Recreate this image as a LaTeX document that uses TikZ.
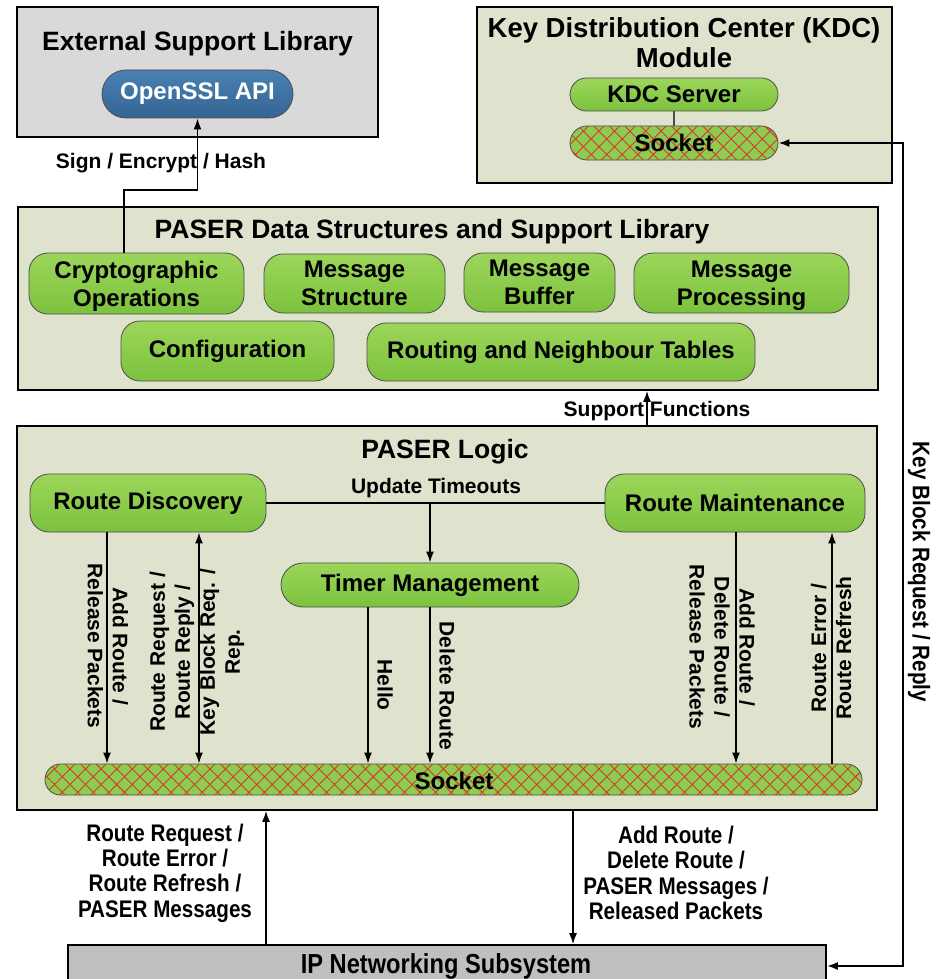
\documentclass[tikz,border=0pt]{standalone}
\usepackage{fontspec}
\setmainfont{Liberation Sans}
\newfontfamily\narrowfont{Liberation Sans}[FakeStretch=0.86]
\usetikzlibrary{arrows.meta,patterns.meta}
\definecolor{boxbg}{HTML}{DFE3CD}
\definecolor{extbg}{HTML}{D9D9D9}
\definecolor{ipbg}{HTML}{BFBFBF}
\definecolor{pilltop}{HTML}{9CD65A}
\definecolor{pillbot}{HTML}{7CC23E}
\definecolor{pillline}{HTML}{4D4D4D}
\definecolor{ssltop}{HTML}{4A80B3}
\definecolor{sslbot}{HTML}{346593}
\definecolor{hatchred}{HTML}{D9372A}
\definecolor{sockgreen}{HTML}{8DCC50}
\tikzset{
  container/.style={draw=black, line width=1.6pt, inner sep=0pt, anchor=center},
  pill/.style={draw=pillline, line width=0.8pt, top color=pilltop, bottom color=pillbot,
    rounded corners=19pt, inner sep=0pt, align=center,
    font=\fontsize{24}{28}\selectfont\bfseries},
  twoline/.style={text depth=0pt},
  sockpill/.style={draw=pillline, line width=0.8pt, fill=sockgreen, inner sep=0pt,
    font=\fontsize{24}{28}\selectfont\bfseries,
    postaction={pattern={Hatch[angle=45,distance=11pt,line width=0.9pt]}, pattern color=hatchred}},
  titletext/.style={font=\fontsize{26.5}{30}\selectfont\bfseries, align=center, inner sep=0pt, text depth=0pt},
  lbl/.style={font=\fontsize{21}{25}\selectfont\bfseries, align=center, inner sep=0pt},
  nlbl/.style={font=\narrowfont\fontsize{24}{25.3}\selectfont\bfseries, align=center, inner sep=0pt},
  conn/.style={line width=1.6pt},
  arr/.style={conn, -{Latex[length=11pt,width=8pt]}},
  dblarr/.style={conn, {Latex[length=11pt,width=8pt]}-{Latex[length=11pt,width=8pt]}},
}
\begin{document}
\begin{tikzpicture}[x=1pt,y=-1pt]
\useasboundingbox (0,0) rectangle (937,979);

% containers
\node[container, fill=extbg, minimum width=361pt, minimum height=130pt] (ext) at (197.5,72) {};
\node[container, fill=boxbg, minimum width=415pt, minimum height=176pt] (kdcbox) at (684.5,95) {};
\node[container, fill=boxbg, minimum width=860pt, minimum height=183pt] (ds) at (448,298.5) {};
\node[container, fill=boxbg, minimum width=860pt, minimum height=384pt] (logic) at (447,618) {};
\node[container, fill=ipbg, minimum width=758pt, minimum height=45pt] (ip) at (447,967.5) {};

% titles
\node[titletext] (exttitle) at (197.5,41) {External Support Library};
\node[titletext, font=\fontsize{27.5}{30}\selectfont\bfseries] (kdctitle) at (684,43) {Key Distribution Center (KDC)\\Module};
\node[titletext] (dstitle) at (432,229) {PASER Data Structures and Support Library};
\node[titletext] (logictitle) at (445,449) {PASER Logic};
\node[nlbl, font=\narrowfont\fontsize{27.5}{30}\selectfont\bfseries] (iptitle) at (446,966) {IP Networking Subsystem};

% external library
\node[pill, top color=ssltop, bottom color=sslbot, text=white, rounded corners=24pt,
  minimum width=191pt, minimum height=48pt] (openssl) at (197.5,94) {OpenSSL API};

% KDC
\node[pill, rounded corners=16.5pt, minimum width=208pt, minimum height=33pt] (kdcserver) at (674,94.5) {KDC Server};
\node[sockpill, rounded corners=17pt, minimum width=208pt, minimum height=34pt] (kdcsock) at (674,143) {Socket};

% data structures
\node[pill, twoline, minimum width=215pt, minimum height=61pt] (crypto) at (136.5,283.5) {Cryptographic\\Operations};
\node[pill, twoline, minimum width=181pt, minimum height=59pt] (msgstruct) at (354.5,283.5) {Message\\Structure};
\node[pill, twoline, minimum width=151pt, minimum height=59pt] (msgbuf) at (539.5,282.5) {Message\\Buffer};
\node[pill, twoline, minimum width=215pt, minimum height=60pt] (msgproc) at (741.5,283) {Message\\Processing};
\node[pill, minimum width=213pt, minimum height=60pt] (config) at (227.5,351) {Configuration};
\node[pill, minimum width=388pt, minimum height=58pt] (routing) at (561,352) {Routing and Neighbour Tables};

% logic
\node[pill, minimum width=236pt, minimum height=58pt] (rd) at (148,503) {Route Discovery};
\node[pill, minimum width=260pt, minimum height=58pt] (rm) at (735,503) {Route Maintenance};
\node[pill, rounded corners=22pt, minimum width=298pt, minimum height=44pt] (tm) at (430,585) {Timer Management};
\node[sockpill, rounded corners=15.5pt, minimum width=817pt, minimum height=31pt] (sock) at (453.5,779.5) {};
\node[inner sep=0pt, font=\fontsize{24}{28}\selectfont\bfseries] (socktext) at (454,781) {Socket};

% connectors: external
\coordinate (cbend) at (124,190);
\draw[arr] ([xshift=-12.5pt]crypto.north) -- (cbend) -| (openssl.south);
\node[lbl] (signlbl) at (161,163) {Sign / Encrypt / Hash};

% KDC
\draw[line width=1.6pt, pillline] (kdcserver) -- (kdcsock);
\coordinate (kbtop) at (903,143);
\coordinate (kbbot) at (903,966);
\draw[dblarr, line width=2pt] (kdcsock.east) -- (kbtop) -- (kbbot) -- (ip.east |- kbbot);
\node[nlbl, rotate=-90] (kblbl) at (919,572) {Key Block Request / Reply};

% support functions
\draw[arr] (logic.north -| 647,0) -- (ds.south -| 647,0);
\node[lbl] (suplbl) at (657,411) {Support Functions};

% update timeouts
\draw[conn] (rd.east) -- (rm.west);
\draw[arr] (tm.north |- rd.east) -- (tm.north);
\node[lbl] (updlbl) at (436,488) {Update Timeouts};

% route discovery
\draw[arr] (rd.south -| 107,0) -- (sock.north -| 107,0);
\node[lbl, rotate=-90] (rdlbl1) at (108,646) {Add Route /\\Release Packets};
\draw[dblarr] (rd.south -| 199,0) -- (sock.north -| 199,0);
\node[lbl, rotate=90] (rdlbl2) at (197,652) {Route Request /\\Route Reply /\\Key Block Req. /\\Rep.};

% timer management
\draw[arr] (tm.south -| 368,0) -- (sock.north -| 368,0);
\node[lbl, rotate=-90] (hellolbl) at (385,685) {Hello};
\draw[arr] (tm.south) -- (sock.north -| tm.south);
\node[lbl, rotate=-90] (dellbl) at (447,686) {Delete Route};

% route maintenance
\draw[arr] (rm.south -| 736,0) -- (sock.north -| 736,0);
\node[lbl, rotate=-90] (rmlbl1) at (722,647) {Add Route /\\Delete Route /\\Release Packets};
\draw[arr] (sock.north -| 832,0) -- (rm.south -| 832,0);
\node[lbl, rotate=90] (rmlbl2) at (831,648) {Route Error /\\Route Refresh};

% IP subsystem
\draw[arr] (ip.north -| 266,0) -- (logic.south -| 266,0);
\draw[arr] (logic.south -| 573,0) -- (ip.north -| 573,0);
\node[nlbl] (iplbl1) at (165,873) {Route Request /\\Route Error /\\Route Refresh /\\PASER Messages};
\node[nlbl] (iplbl2) at (676,873) {Add Route /\\Delete Route /\\PASER Messages /\\Released Packets};
\end{tikzpicture}
\end{document}
